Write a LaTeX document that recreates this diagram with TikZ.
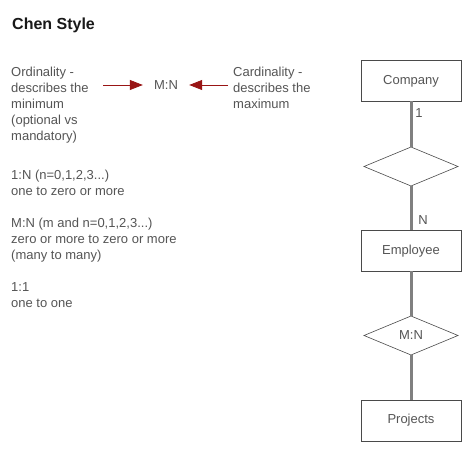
\documentclass[tikz,border=0pt]{standalone}
\usepackage{fontspec}
\setmainfont{Liberation Sans}
\usetikzlibrary{arrows.meta, shapes.geometric}
\definecolor{txtgray}{HTML}{555555}
\definecolor{boxgray}{HTML}{4A4A4A}
\definecolor{linegray}{HTML}{808080}
\definecolor{arrowred}{HTML}{991515}
\newcommand{\bodyfont}{\fontsize{13}{16}\selectfont}
\tikzset{
  note/.style={anchor=north west, align=left, inner sep=0pt, text=txtgray, font=\bodyfont},
  entity/.style={draw=boxgray, line width=0.8pt, rectangle, minimum width=100pt, minimum height=41pt, inner sep=0pt, outer sep=0pt, text=txtgray, font=\bodyfont},
  relation/.style={draw=boxgray, line width=0.6pt, diamond, minimum width=94pt, minimum height=39pt, inner sep=0pt, outer sep=0pt, text=txtgray, font=\bodyfont},
  link/.style={draw=linegray, line width=3pt},
  redarrow/.style={draw=arrowred, line width=0.8pt, -{Triangle[length=13pt,width=10pt]}}
}
\begin{document}
\begin{tikzpicture}[x=1pt, y=-1pt]
\useasboundingbox[fill=white] (0,0) rectangle (475,465);
\node (title) at (12,29.5) [anchor=base west, inner sep=0pt, font=\fontsize{16}{18}\selectfont\bfseries, text=black!90] {Chen Style};
\node (ordinality) at (11,67) [note] {Ordinality -\\describes the\\minimum\\(optional vs\\mandatory)};
\node (cardinality) at (233,67) [note] {Cardinality -\\describes the\\maximum};
\node (mn) at (166,85) [inner sep=0pt, minimum width=46pt, text=txtgray, font=\bodyfont] {M:N};
\coordinate (ordtail) at (103,85);
\coordinate (cardtail) at (228,85);
\draw[redarrow] (ordtail) -- (mn.west);
\draw[redarrow] (cardtail) -- (mn.east);
\node (onemany) at (11,170) [note] {1:N (n=0,1,2,3...)\\one to zero or more};
\node (manymany) at (11,218) [note] {M:N (m and n=0,1,2,3...)\\zero or more to zero or more\\(many to many)};
\node (oneone) at (11,282) [note] {1:1\\one to one};
\node (company) at (411,81) [entity] {Company};
\node (rel1) at (411,166.5) [relation] {};
\node (employee) at (411,251) [entity] {Employee};
\node (rel2) at (411,335.5) [relation] {M:N};
\node (projects) at (411,420.5) [entity] {Projects};
\draw[link] (company) -- (rel1);
\draw[link] (rel1) -- (employee);
\draw[link] (employee) -- (rel2);
\draw[link] (rel2) -- (projects);
\node (one) at (419,113) [text=txtgray, font=\bodyfont, inner sep=0pt] {1};
\node (many) at (423,220) [text=txtgray, font=\bodyfont, inner sep=0pt] {N};
\end{tikzpicture}
\end{document}
